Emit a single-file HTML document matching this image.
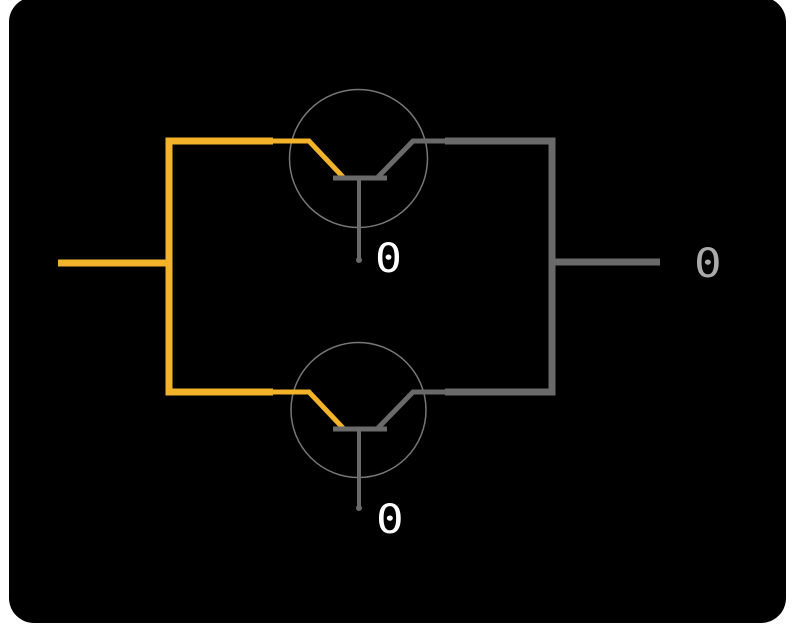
<!DOCTYPE html>
<html><head><meta charset="utf-8"><style>
html,body{margin:0;padding:0;background:#fff;width:800px;height:637px;overflow:hidden}
svg{display:block}
text{font-family:"DejaVu Sans Mono","Liberation Mono",monospace;font-size:40px}
</style></head><body>
<svg width="800" height="637" viewBox="0 0 800 637" xmlns="http://www.w3.org/2000/svg">
<rect x="9" y="-3" width="777" height="626" rx="25" ry="25" fill="#000"/>
<!-- circles -->
<circle cx="358.5" cy="158.5" r="69" fill="none" stroke="#777" stroke-width="1.5"/>
<circle cx="358.5" cy="410" r="67.5" fill="none" stroke="#777" stroke-width="1.5"/>
<!-- yellow wires -->
<g fill="none" stroke="#f2b32a" stroke-linejoin="miter" stroke-linecap="butt">
<path d="M58,263 H169" stroke-width="7"/>
<path d="M273,141 H169 V392 H273" stroke-width="7"/>
<path d="M272,141 H309 L343,177" stroke-width="5"/>
<path d="M272,392 H309 L343,428" stroke-width="5"/>
</g>
<!-- gray wires -->
<g fill="none" stroke="#6a6a6a" stroke-linejoin="miter" stroke-linecap="butt">
<path d="M378,177 L413,141 H446" stroke-width="5"/>
<path d="M378,428 L413,392 H446" stroke-width="5"/>
<path d="M445,141 H552 V392 H445" stroke-width="7"/>
<path d="M552,262 H660" stroke-width="7"/>
<path d="M333,178 H387" stroke-width="5"/>
<path d="M333,429 H387" stroke-width="5"/>
<path d="M359,178 V260" stroke-width="4"/>
<path d="M359,429 V508" stroke-width="4"/>
</g>
<circle cx="359" cy="260" r="3" fill="#6a6a6a"/>
<circle cx="359" cy="508" r="3" fill="#6a6a6a"/>
<!-- labels -->
<text x="375" y="272" fill="#fff" transform="translate(375 0) scale(1.12 1) translate(-375 0)">0</text>
<text x="694" y="277" fill="#aaa" transform="translate(694 0) scale(1.15 1) translate(-694 0)">0</text>
<text x="376" y="533" fill="#fff" transform="translate(376 0) scale(1.15 1) translate(-376 0)">0</text>
</svg>
</body></html>
